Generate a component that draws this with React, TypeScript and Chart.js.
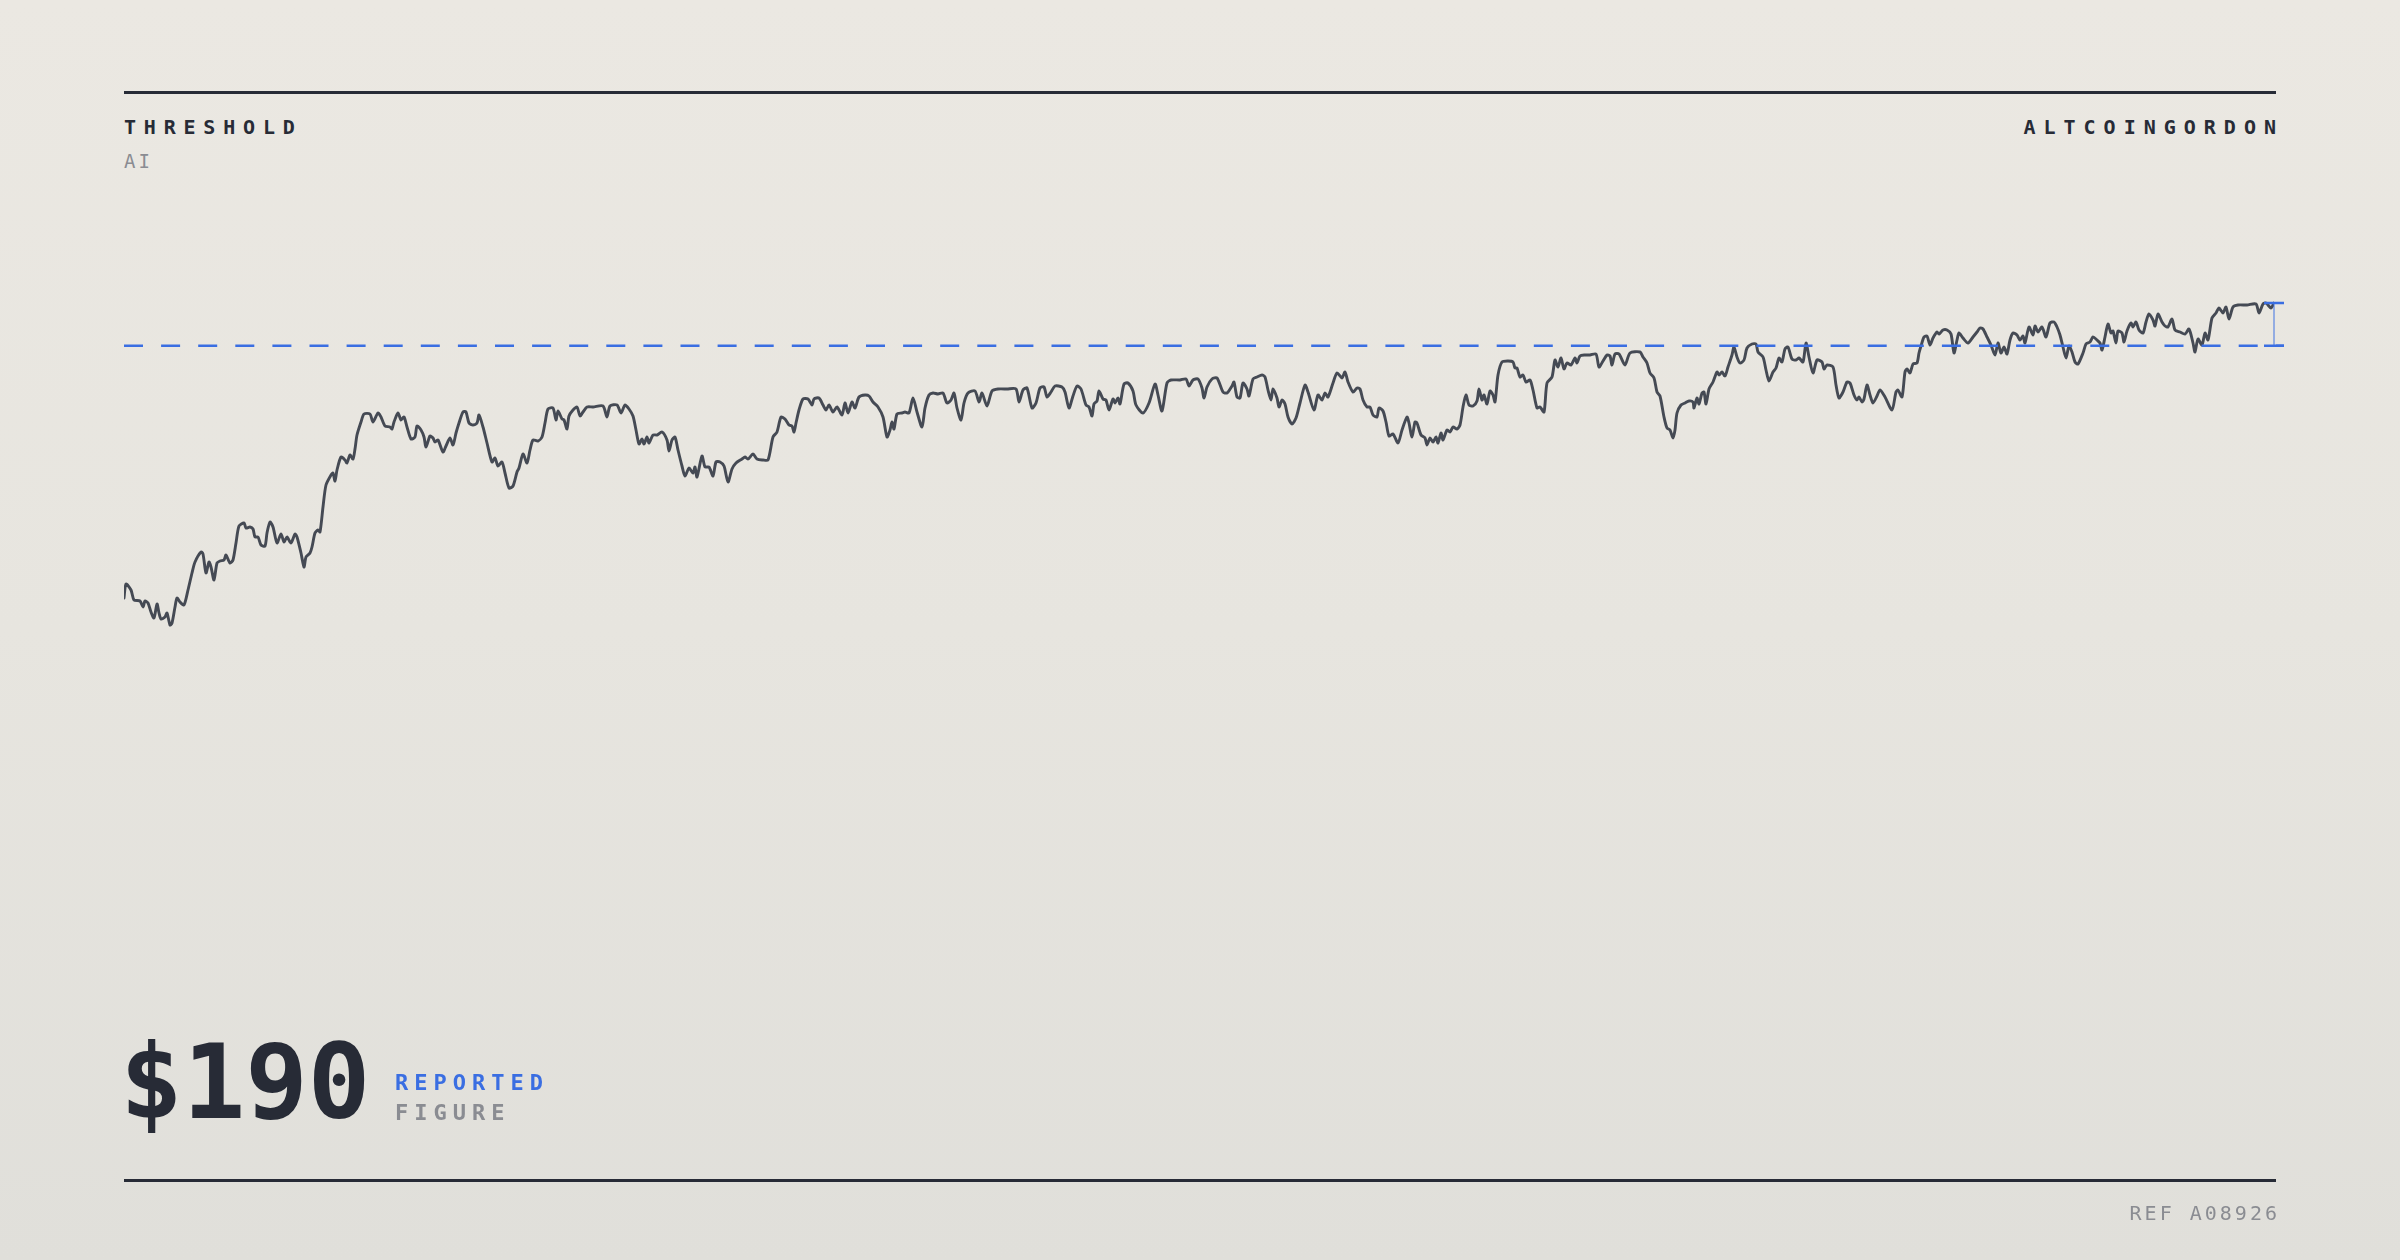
import React, { useEffect, useRef } from "react";
import { Chart, registerables } from "chart.js";

Chart.register(...registerables);

// ---- data (day offset, price in $) ----
const days: number[] = [
  // segment A
  0, 2, 7, 10, 16, 19, 21, 24, 27, 30, 33, 35, 37, 41, 43, 46, 48, 51, 53, 56,
  60, 64, 68, 71, 77, 79, 82, 85, 87, 90, 93, 96, 100, 102, 106, 109, 112, 115, 120, 122,
  126, 129, 131, 134, 137, 141, 143, 146, 149, 153, 157, 160, 163, 167, 171, 173, 177, 180, 182, 186,
  188, 191, 194, 196, 199, 202, 207, 209, 211, 213, 217, 221, 223, 226, 229, 231, 233, 237, 240, 246,
  249, 254, 257, 261, 266, 268, 270, 274, 277, 280, 283, 287, 291, 293, 297, 300, 302, 306,
  // segment B
  309, 311, 314, 319, 322, 326, 329, 332, 335, 339, 342, 345, 349, 353, 355, 359, 363, 368, 371, 374,
  378, 381, 385, 389, 393, 395, 399, 403, 406, 409, 414, 418, 421, 424, 429, 432, 434, 438, 440, 443,
  445, 449, 453, 456, 459, 463, 469, 479, 483, 486, 493, 497, 501, 505, 509, 512, 515, 518, 520, 523,
  525, 529, 533, 538, 543, 545, 548, 551, 554, 558, 561, 565, 569, 571, 573, 578, 581, 585, 589, 592,
  596, 600, 604, 608, 612, 618,
  // segment C
  621, 624, 629, 633, 639, 644, 649, 653, 657, 661, 665, 668, 670, 672, 675, 679, 684, 688, 690, 695,
  699, 702, 705, 709, 713, 718, 721, 724, 728, 731, 735, 741, 745, 749, 754, 759, 763, 766, 768, 770,
  773, 778, 781, 785, 789, 793, 798, 801, 805, 809, 814, 819, 823, 827, 830, 833, 837, 840, 844, 851,
  855, 858, 863, 868, 874, 883, 892, 895, 899, 903, 908, 912, 916, 920, 923, 927,
  // segment D
  931, 938, 941, 945, 949, 953, 957, 962, 965, 968, 970, 973, 975, 979, 982, 985, 989, 991, 994, 996,
  1000, 1004, 1009, 1012, 1019, 1025, 1031, 1034, 1038, 1043, 1047, 1056, 1062, 1065, 1069, 1074, 1078, 1080, 1083, 1088,
  1093, 1099, 1103, 1108, 1110, 1113, 1116, 1119, 1123, 1125, 1129, 1133, 1138, 1141, 1144, 1147, 1149, 1153, 1155, 1158,
  1161, 1164, 1168, 1172, 1176, 1181, 1184, 1190, 1194, 1198, 1201, 1204, 1209, 1213, 1218, 1221, 1224, 1229, 1233, 1236,
  // segment E
  1239, 1243, 1246, 1249, 1253, 1255, 1259, 1262, 1265, 1269, 1274, 1278, 1283, 1285, 1288, 1291, 1293, 1297, 1301, 1303,
  1306, 1309, 1312, 1314, 1317, 1319, 1323, 1326, 1329, 1333, 1336, 1339, 1342, 1345, 1349, 1353, 1355, 1358, 1360, 1363,
  1366, 1369, 1371, 1374, 1378, 1384, 1389, 1391, 1393, 1396, 1399, 1402, 1406, 1409, 1413, 1416, 1420, 1423, 1428, 1431,
  1434, 1437, 1440, 1443, 1447, 1451, 1453, 1456, 1461, 1466, 1472, 1475, 1479, 1483, 1486, 1488, 1491, 1495, 1501, 1506,
  1516, 1519, 1523, 1526, 1530, 1533, 1536, 1540, 1543, 1546,
  // segment F
  1549, 1551, 1553, 1557, 1561, 1565, 1569, 1570, 1573, 1575, 1578, 1580, 1582, 1585, 1589, 1593, 1595, 1598, 1601, 1604,
  1608, 1610, 1613, 1616, 1620, 1623, 1628, 1632, 1634, 1639, 1642, 1645, 1649, 1652, 1655, 1658, 1661, 1664, 1668, 1672,
  1675, 1679, 1682, 1685, 1689, 1693, 1698, 1700, 1703, 1709, 1712, 1715, 1719, 1723, 1726, 1730, 1733, 1735, 1738, 1740,
  1743, 1746, 1749, 1753, 1756, 1761, 1768, 1772, 1774, 1778, 1781, 1783, 1786, 1789, 1793, 1795, 1797, 1800, 1803, 1806,
  1809, 1813, 1815, 1819, 1823, 1827, 1830, 1833, 1835, 1839, 1844, 1849, 1853, 1856,
  // segment G
  1859, 1863, 1867, 1871, 1874, 1877, 1880, 1883, 1886, 1889, 1893, 1896, 1899, 1901, 1905, 1909, 1911, 1914, 1918, 1922,
  1926, 1930, 1933, 1936, 1939, 1942, 1945, 1948, 1951, 1954, 1959, 1962, 1966, 1969, 1973, 1976, 1978, 1981, 1984, 1987,
  1989, 1992, 1994, 1998, 2000, 2003, 2007, 2009, 2012, 2015, 2019, 2022, 2025, 2029, 2031, 2034, 2038, 2041, 2044, 2048,
  2051, 2056, 2061, 2065, 2069, 2071, 2074, 2078, 2081, 2084, 2088, 2092, 2095, 2099, 2102, 2105, 2109, 2114, 2123, 2132,
  2135, 2139, 2142, 2147, 2150,
];

const prices: number[] = [
  // segment A
  42.5, 49.5, 46.5, 41.5, 41, 38, 41, 40, 35.5, 32.5, 39.5, 35, 32, 33, 35, 29, 30, 38, 42.5, 40.5,
  39, 46.5, 55, 60.5, 65.5, 64.5, 55, 60.5, 58, 51.5, 60, 61, 61.5, 64, 60, 61.5, 70, 78.5, 80, 77.5,
  78, 77, 73, 73, 69, 68.5, 75, 80.5, 78, 70, 74.5, 70.5, 73, 70, 74.5, 73, 65, 58, 63, 65,
  68, 75, 76.5, 75.5, 88, 99, 104, 105, 101, 106.5, 113, 111.5, 110, 114, 112, 117, 124, 130.5, 134.5, 134.5,
  130.5, 135, 133, 128.5, 128, 127, 130.5, 135, 131.5, 133, 128, 122, 123, 128.5, 126.5, 123, 118, 123.5,
  // segment B
  122.5, 120.5, 121.5, 115.5, 118.5, 122.5, 119, 125, 130, 135.5, 135.5, 130, 129, 130, 134, 128, 120, 110.5, 112.5, 108.5,
  110.5, 105, 97.5, 98.5, 105.5, 107.5, 114.5, 110, 116.5, 121.5, 121, 123, 130, 137, 137.5, 131.5, 136, 132, 131.5, 127,
  133.5, 136.5, 138, 133.5, 135.5, 138, 138, 138.5, 133, 138.5, 139, 135, 139, 137, 133.5, 126.5, 119.5, 122, 119.5, 123,
  120, 124, 124, 125.5, 121.5, 116, 121.5, 123, 116.5, 108.5, 103.5, 107.5, 105, 108, 103, 113.5, 108, 108, 103.5, 110.5,
  110.5, 108.5, 100.5, 107, 110, 112,
  // segment C
  113, 112, 114.5, 112, 111.5, 111.5, 123, 125.5, 133, 132, 129, 128.5, 125.5, 130, 136.5, 142, 142, 139, 142, 142.5,
  139, 136.5, 139, 135.5, 138, 134, 140, 135, 140.5, 137.5, 143, 144, 143.5, 140.5, 138, 133, 123, 126.5, 130.5, 127,
  134.5, 135, 135.5, 135, 142.5, 135.5, 128, 137.5, 144, 145, 144.5, 145, 140, 141.5, 145, 137.5, 131.5, 140, 145, 146,
  140.5, 145, 138.5, 146, 147, 147, 147, 140.5, 146.5, 147.5, 137.5, 140, 147.5, 148, 143, 145.5,
  // segment D
  148.5, 148, 145.5, 137.5, 143.5, 148.5, 147, 139, 138, 133.5, 139.5, 141, 146, 142, 141.5, 136.5, 142, 140, 142.5, 139.5,
  149.5, 150, 146, 139, 135, 140, 149.5, 144, 136, 150, 151.5, 151.5, 152, 148.5, 151.5, 152, 147.5, 142.5, 148, 152,
  152.5, 145.5, 145, 148.5, 150.5, 143, 142.5, 150, 147, 143.5, 152, 153, 154, 153, 146.5, 141.5, 147, 142.5, 138, 141.5,
  139.5, 133, 129.5, 132.5, 140, 149, 145.5, 136.5, 144, 141.5, 145, 143, 150, 155, 152.5, 155.5, 150.5, 145.5, 147.5, 147,
  // segment E
  141.5, 138, 138, 134, 133, 137.5, 136, 130.5, 123.5, 124.5, 120, 126.5, 133, 130, 123, 130.5, 130, 124, 122.5, 119,
  122.5, 120.5, 123, 120, 125, 121.5, 126.5, 125.5, 128, 127, 129, 138, 144, 139, 138.5, 141, 147, 141.5, 144, 139.5,
  146, 144, 140.5, 154, 160.5, 161, 160.5, 157.5, 157.5, 153, 154, 150.5, 151.5, 146.5, 137.5, 138, 135.5, 150, 153, 161.5,
  158, 162.5, 157, 160, 159, 162.5, 160, 163.5, 164, 164, 164.5, 158, 161, 164, 163.5, 159, 164.5, 164.5, 159, 165,
  165.5, 163, 160, 155, 152.5, 145.5, 143.5, 133, 127.5, 126.5,
  // segment F
  122.5, 126.5, 135, 139, 140, 141, 140.5, 137.5, 142.5, 139.5, 145, 145.5, 139.5, 147, 150.5, 155.5, 154, 155.5, 153.5, 158,
  164, 168, 163, 160, 161.5, 167.5, 169.5, 169.5, 165.5, 163, 156.5, 151, 155.5, 157.5, 162.5, 160.5, 167, 168, 162, 161.5,
  162.5, 160.5, 170, 163, 155, 161.5, 160.5, 157, 159, 158, 149, 142.5, 145.5, 150.5, 150, 144, 141.5, 143, 140.5, 142,
  149, 144, 140, 143.5, 146.5, 143, 136.5, 145.5, 146.5, 143, 155.5, 157, 155, 159.5, 160, 165, 168.5, 173, 173.5, 169,
  172.5, 175.5, 174.5, 176.5, 176.5, 174.5, 165, 171.5, 175, 172.5, 170, 173, 175.5, 177.5,
  // segment G
  177, 173, 169, 164, 170, 165, 168, 164.5, 171.5, 175, 174, 171.5, 173.5, 170, 178, 174, 178.5, 175.5, 178, 173,
  180, 180.5, 178, 174, 168, 162.5, 168.5, 165.5, 160.5, 159.5, 165, 169.5, 170.5, 173, 171.5, 170, 166.5, 173, 179.5, 175,
  176, 170, 176, 175, 170.5, 176, 180, 178, 180.5, 176.5, 175, 180.5, 184.5, 181.5, 178.5, 184.5, 180.5, 178.5, 178, 182,
  176.5, 175.5, 174.5, 177, 170, 165.5, 172, 169, 175, 171.5, 182.5, 185, 187.5, 185, 188, 182, 188, 189, 189, 189.5,
  185, 189.5, 190, 187.5, 190,
];

const THRESHOLD = 168.6;
const Y_RANGE = [0, 250];
const X_RANGE = [0, 2150];

const titleLeft = "THRESHOLD";
const subtitleLeft = "AI";
const titleRight = "ALTCOINGORDON";
const figureLine1 = "REPORTED";
const figureLine2 = "FIGURE";
const refText = "REF A08926";

const INK = "#272b36";
const GREY = "#8a8c92";
const BLUE = "#3a6ee2";
const LINE = "#454a54";
const MONO = '"DejaVu Sans Mono", "Liberation Mono", monospace';

const thresholdPlugin = {
  id: "thresholdMarker",
  afterDatasetsDraw(chart: any) {
    const { ctx, chartArea, scales } = chart;
    const yT = scales.y.getPixelForValue(THRESHOLD);
    const lastDay = days[days.length - 1];
    const lastVal = prices[prices.length - 1];
    const xL = scales.x.getPixelForValue(lastDay);
    const yL = scales.y.getPixelForValue(lastVal);
    ctx.save();
    // dashed threshold
    ctx.strokeStyle = BLUE;
    ctx.lineWidth = 2.4;
    ctx.setLineDash([19, 18.1]);
    ctx.beginPath();
    ctx.moveTo(chartArea.left, yT);
    ctx.lineTo(chartArea.right + 10, yT);
    ctx.stroke();
    ctx.setLineDash([]);
    // gap bracket
    ctx.strokeStyle = "rgba(58,110,226,0.65)";
    ctx.lineWidth = 1.5;
    ctx.beginPath();
    ctx.moveTo(xL, yL);
    ctx.lineTo(xL, yT);
    ctx.stroke();
    ctx.strokeStyle = BLUE;
    ctx.lineWidth = 2.4;
    ctx.beginPath();
    ctx.moveTo(xL - 10, yL);
    ctx.lineTo(xL + 10, yL);
    ctx.moveTo(xL - 10, yT);
    ctx.lineTo(xL + 10, yT);
    ctx.stroke();
    ctx.restore();
  },
};

export default function App() {
  const canvasRef = useRef<HTMLCanvasElement>(null);

  useEffect(() => {
    if (!canvasRef.current) return;
    const points = days.map((d, i) => ({ x: d, y: prices[i] }));
    const chart = new Chart(canvasRef.current, {
      type: "line",
      data: {
        datasets: [
          {
            data: points,
            borderColor: LINE,
            borderWidth: 2.9,
            pointRadius: 0,
            tension: 0.25,
            fill: false,
            borderJoinStyle: "round",
            borderCapStyle: "round",
          } as any,
        ],
      },
      options: {
        animation: false,
        responsive: false,
        maintainAspectRatio: false,
        devicePixelRatio: 1,
        events: [],
        layout: { padding: { left: 124, right: 126, top: 183, bottom: 577 } },
        scales: {
          x: { type: "linear", min: X_RANGE[0], max: X_RANGE[1], display: false },
          y: { type: "linear", min: Y_RANGE[0], max: Y_RANGE[1], display: false },
        },
        plugins: { legend: { display: false }, tooltip: { enabled: false } },
      },
      plugins: [thresholdPlugin],
    });
    return () => chart.destroy();
  }, []);

  const base: React.CSSProperties = {
    position: "absolute",
    fontFamily: MONO,
    lineHeight: 1,
    whiteSpace: "nowrap",
    margin: 0,
  };

  const lastVal = prices[prices.length - 1];

  return (
    <div
      style={{
        position: "fixed",
        left: 0,
        top: 0,
        width: 2400,
        height: 1260,
        overflow: "hidden",
        background: "linear-gradient(180deg, #ebe8e2 0%, #e7e5df 50%, #e0dfda 100%)",
      }}
    >
      <div style={{ position: "absolute", left: 124, top: 91, width: 2152, height: 3, background: INK }} />
      <div style={{ position: "absolute", left: 124, top: 1179, width: 2152, height: 3, background: INK }} />

      <div style={{ ...base, left: 124, top: 117, fontSize: 20, fontWeight: 700, letterSpacing: 7.8, color: INK }}>
        {titleLeft}
      </div>
      <div style={{ ...base, left: 124, top: 152, fontSize: 19, letterSpacing: 3, color: GREY }}>{subtitleLeft}</div>
      <div style={{ ...base, right: 116, top: 117, fontSize: 20, fontWeight: 700, letterSpacing: 8, color: INK }}>
        {titleRight}
      </div>

      <canvas
        ref={canvasRef}
        width={2400}
        height={1260}
        style={{ position: "absolute", left: 0, top: 0, width: 2400, height: 1260 }}
      />

      <div style={{ ...base, left: 120, top: 1030, fontSize: 104, fontWeight: 700, letterSpacing: 0, color: INK }}>
        ${Math.round(lastVal)}
      </div>
      <div style={{ ...base, left: 395, top: 1072, fontSize: 22, fontWeight: 700, letterSpacing: 6, color: BLUE }}>
        {figureLine1}
      </div>
      <div style={{ ...base, left: 395, top: 1102, fontSize: 22, fontWeight: 700, letterSpacing: 6, color: GREY }}>
        {figureLine2}
      </div>
      <div style={{ ...base, right: 120, top: 1203, fontSize: 20, letterSpacing: 3, color: GREY }}>{refText}</div>
    </div>
  );
}
